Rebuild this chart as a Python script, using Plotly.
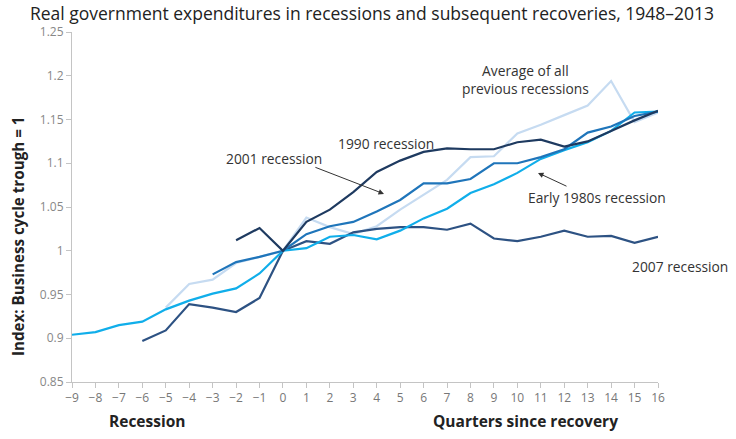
import plotly.graph_objects as go

# ---- data ----
q_early1980s = list(range(-9, 17))
early1980s = [0.904, 0.907, 0.915, 0.919, 0.933, 0.943, 0.951, 0.957, 0.974, 1.000,
              1.003, 1.016, 1.018, 1.013, 1.023, 1.037, 1.048, 1.066, 1.076, 1.089,
              1.105, 1.115, 1.124, 1.137, 1.158, 1.159]

q_average = list(range(-5, 17))
average = [0.935, 0.962, 0.967, 0.986, 0.993, 1.000, 1.038, 1.027, 1.019, 1.028,
           1.047, 1.064, 1.081, 1.107, 1.108, 1.134, 1.144, 1.155, 1.166, 1.194,
           1.147, 1.158]

q_2001 = list(range(-3, 17))
r2001 = [0.973, 0.987, 0.993, 1.000, 1.019, 1.028, 1.033, 1.045, 1.058, 1.077,
         1.077, 1.082, 1.100, 1.100, 1.107, 1.116, 1.135, 1.142, 1.154, 1.159]

q_1990 = list(range(-2, 17))
r1990 = [1.012, 1.026, 1.000, 1.033, 1.047, 1.067, 1.090, 1.103, 1.113, 1.117,
         1.116, 1.116, 1.124, 1.127, 1.119, 1.125, 1.137, 1.149, 1.160]

q_2007 = list(range(-6, 17))
r2007 = [0.897, 0.909, 0.939, 0.935, 0.930, 0.946, 1.000, 1.011, 1.008, 1.021,
         1.025, 1.027, 1.027, 1.024, 1.031, 1.014, 1.011, 1.016, 1.023, 1.016,
         1.017, 1.009, 1.016]

x_ticks = list(range(-9, 17))
y_ticks = [0.85, 0.9, 0.95, 1.0, 1.05, 1.1, 1.15, 1.2, 1.25]
y_tick_labels = ["0.85", "0.9", "0.95", "1", "1.05", "1.1", "1.15", "1.2", "1.25"]

FONT = "Open Sans"
TXT = "#333333"
W, H = 736, 439

fig = go.Figure()
series = [
    (q_average, average, "#C6DBF1", "Average of all previous recessions"),
    (q_2007, r2007, "#2D5283", "2007 recession"),
    (q_early1980s, early1980s, "#10AEEA", "Early 1980s recession"),
    (q_2001, r2001, "#1F75BA", "2001 recession"),
    (q_1990, r1990, "#1E3A60", "1990 recession"),
]
for xs, ys, col, name in series:
    fig.add_trace(go.Scatter(x=xs, y=ys, mode="lines", name=name,
                             line=dict(color=col, width=2.2), showlegend=False))

ann = []
def txt(x, y, t, **kw):
    d = dict(x=x, y=y, text=t, showarrow=False, xref="x", yref="y",
             xanchor="center", yanchor="middle",
             font=dict(family=FONT, size=13.8, color=TXT))
    d.update(kw)
    ann.append(d)

txt(4.40, 1.123, "1990 recession")
txt(-0.38, 1.105, "2001 recession")
txt(10.33, 1.196, "Average of all<br>previous recessions")
txt(13.40, 1.0605, "Early 1980s recession")
txt(1.0375, 0.982, "2007 recession", xref="paper")

# arrows
for (tx, ty, hx, hy) in [(1.32, 1.096, 4.31, 1.065), (12.16, 1.073, 10.88, 1.089)]:
    ann.append(dict(x=hx, y=hy, ax=tx, ay=ty, xref="x", yref="y", axref="x", ayref="y",
                    text="", showarrow=True, arrowhead=2, arrowsize=1.1, arrowwidth=1,
                    arrowcolor="#333333"))

# bottom group labels
ann.append(dict(x=-5.8, y=-0.111, xref="x", yref="paper", text="<b>Recession</b>",
                xanchor="center", yanchor="middle", showarrow=False,
                font=dict(family=FONT, size=15.5, color="#222222")))
ann.append(dict(x=10.33, y=-0.111, xref="x", yref="paper", text="<b>Quarters since recovery</b>",
                xanchor="center", yanchor="middle", showarrow=False,
                font=dict(family=FONT, size=15.5, color="#222222")))
# y axis title
ann.append(dict(x=0, y=0.417, xref="paper", yref="paper", xshift=-54, textangle=-90,
                xanchor="center", yanchor="middle",
                text="<b>Index: Business cycle trough = 1</b>", showarrow=False,
                font=dict(family=FONT, size=15.2, color="#222222")))

fig.update_layout(
    width=W, height=H,
    margin=dict(l=72, r=78, t=32, b=57),
    paper_bgcolor="white", plot_bgcolor="white",
    title=dict(text="Real government expenditures in recessions and subsequent recoveries, 1948\u20132013",
               x=372 / W, xref="container", xanchor="center",
               y=1 - 13.5 / H, yref="container", yanchor="middle",
               font=dict(family=FONT, size=17.5, color="#222222")),
    annotations=ann,
)
fig.update_xaxes(range=[-9, 16], tickvals=x_ticks, ticks="outside", ticklen=5,
                 tickcolor="#c4c4c4", showline=True, linecolor="#c4c4c4", linewidth=1,
                 showgrid=False, zeroline=False,
                 tickfont=dict(family=FONT, size=12, color="#777777"))
fig.update_yaxes(range=[0.85, 1.25], tickvals=y_ticks, ticktext=y_tick_labels,
                 ticks="outside", ticklen=5, tickcolor="#c4c4c4", showline=True,
                 linecolor="#c4c4c4", linewidth=1, showgrid=False, zeroline=False,
                 tickfont=dict(family=FONT, size=12, color="#888888"))

fig.write_html("out.html", config={"displayModeBar": False},
               post_script="document.body.style.margin='0';document.body.style.overflow='hidden';")
